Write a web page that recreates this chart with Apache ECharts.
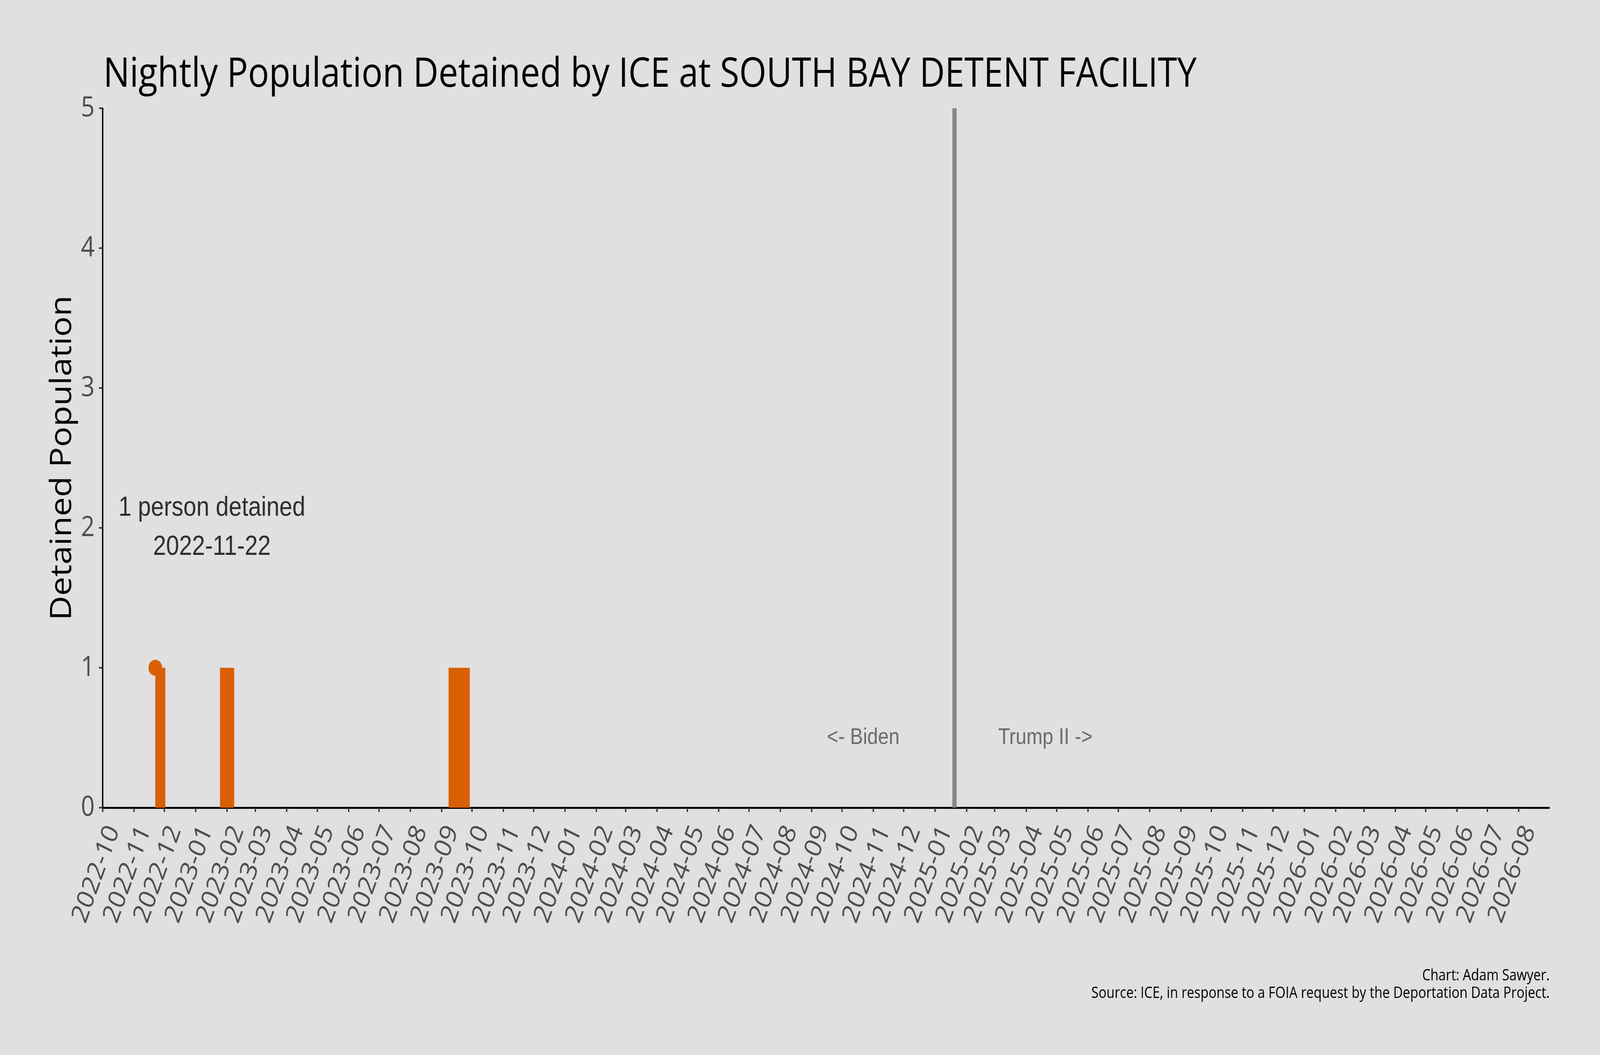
<!DOCTYPE html>
<html>
<head>
<meta charset="utf-8">
<script src="https://cdn.jsdelivr.net/npm/echarts@6/dist/echarts.min.js"></script>
<style>
  html, body { margin: 0; padding: 0; background: #e0e0e0; overflow: hidden; width: 100vw; height: 100vh; }
  #container { position: absolute; left: 0; top: 0; width: 4800px; height: 2700px; transform-origin: 0 0; }
</style>
</head>
<body>
<div id="container"></div>
<script>
var dom = document.getElementById('container');
// the page is laid out at 4800x2700 and fitted onto whatever viewport we get
dom.style.transform = 'scale(' + (window.innerWidth / 4800) + ',' + (window.innerHeight / 2700) + ')';
var myChart = echarts.init(dom, null, { renderer: 'canvas' });

// detention periods (nightly population held across each span)
var periodStart = ['2022-11-22', '2023-01-25', '2023-09-08'];
var periodEnd = ['2022-12-02', '2023-02-08', '2023-09-29'];
var periodValue = [1, 1, 1];

var axisStart = '2022-10-01';
var axisEnd = '2026-08-31';
var inauguration = '2025-01-20';

// monthly ticks, 2022-10 .. 2026-08
var firstTickMonth = [2022, 10];
var lastTickMonth = [2026, 8];

var eraLabels = ['<- Biden', 'Trump II ->'];
var eraLabelDates = ['2024-10-22', '2025-04-20'];
var eraLabelY = 0.5;

var noteDate = '2023-01-17';
var noteY = 2;

var titleText = 'Nightly Population Detained by ICE at SOUTH BAY DETENT FACILITY';
var creditLines = [
    'Chart: Adam Sawyer.',
    'Source: ICE, in response to a FOIA request by the Deportation Data Project.'
];

var ORANGE = '#d95f02';
var SANS = '"Open Sans", "Noto Sans", sans-serif';
var ARIAL = '"Liberation Sans", Arial, sans-serif';

var monthTicks = [];
for (var y = firstTickMonth[0], m = firstTickMonth[1];
     y < lastTickMonth[0] || (y === lastTickMonth[0] && m <= lastTickMonth[1]);
     m === 12 ? (y++, m = 1) : m++) {
    monthTicks.push(+echarts.time.parse(y + '-' + (m < 10 ? '0' + m : m) + '-01'));
}

var periods = periodStart.map(function (s, i) {
    return [s, periodEnd[i], periodValue[i]];
});

var option = {
    backgroundColor: '#e0e0e0',
    animation: false,
    title: {
        text: titleText,
        left: 310,
        top: 140,
        padding: 0,
        textStyle: {
            fontFamily: SANS,
            fontWeight: 'normal',
            fontSize: 105,
            color: '#000'
        }
    },
    graphic: [
        {
            type: 'text',
            right: 151,
            top: 2478,
            style: { text: creditLines[0], font: '39.5px ' + SANS, fill: '#000' }
        },
        {
            type: 'text',
            right: 151,
            top: 2523,
            style: { text: creditLines[1], font: '39.5px ' + SANS, fill: '#000' }
        }
    ],
    grid: {
        left: 308,
        right: 153,
        top: 277,
        bottom: 633,
        containLabel: false
    },
    xAxis: {
        type: 'time',
        min: axisStart,
        max: axisEnd,
        axisLine: { show: true, onZero: false, lineStyle: { color: '#000', width: 5 } },
        axisTick: {
            show: true,
            customValues: monthTicks,
            length: 11,
            lineStyle: { color: '#333', width: 4 }
        },
        splitLine: { show: false },
        axisLabel: {
            customValues: monthTicks,
            formatter: '{yyyy}-{MM}',
            rotate: 67,
            margin: 36,
            verticalAlign: 'top',
            interval: 0,
            hideOverlap: false,
            fontFamily: SANS,
            fontSize: 70,
            color: '#4d4d4d'
        }
    },
    yAxis: {
        type: 'value',
        min: 0,
        max: 5,
        interval: 1,
        name: 'Detained Population',
        nameLocation: 'middle',
        nameGap: 75,
        nameTextStyle: { fontFamily: SANS, fontSize: 87, color: '#000' },
        axisLine: { show: true, lineStyle: { color: '#000', width: 4 } },
        axisTick: { show: true, length: 11, lineStyle: { color: '#333', width: 4 } },
        splitLine: { show: false },
        axisLabel: { margin: 24, fontFamily: SANS, fontSize: 72, color: '#4d4d4d' }
    },
    series: [
        {
            name: 'population',
            type: 'custom',
            dimensions: [
                { name: 'start', type: 'time' },
                { name: 'end', type: 'time' },
                { name: 'value', type: 'number' }
            ],
            encode: { x: [0, 1], y: 2 },
            data: periods,
            renderItem: function (params, api) {
                var p0 = api.coord([api.value(0), api.value(2)]);
                var p1 = api.coord([api.value(1), 0]);
                return {
                    type: 'rect',
                    shape: { x: p0[0], y: p0[1], width: p1[0] - p0[0], height: p1[1] - p0[1] },
                    style: { fill: ORANGE }
                };
            },
            z: 2
        },
        {
            name: 'first detention',
            type: 'scatter',
            data: [[periodStart[0], periodValue[0]]],
            symbol: 'circle',
            symbolSize: 41,
            itemStyle: { color: ORANGE, opacity: 1 },
            z: 3
        },
        {
            name: 'note',
            type: 'scatter',
            data: [[noteDate, noteY]],
            symbolSize: 0,
            label: {
                show: true,
                position: 'inside',
                formatter: periodValue[0] + ' person detained\n' + periodStart[0],
                fontFamily: ARIAL,
                fontSize: 70,
                lineHeight: 100,
                color: '#000',
                align: 'center',
                verticalAlign: 'middle'
            },
            z: 4
        },
        {
            name: 'eras',
            type: 'scatter',
            data: eraLabelDates.map(function (d, i) { return { value: [d, eraLabelY], name: eraLabels[i] }; }),
            symbolSize: 0,
            label: {
                show: true,
                position: 'inside',
                formatter: '{b}',
                fontFamily: ARIAL,
                fontSize: 58,
                color: '#4d4d4d'
            },
            markLine: {
                silent: true,
                symbol: 'none',
                label: { show: false },
                lineStyle: { color: '#888888', width: 13, type: 'solid', opacity: 1 },
                data: [{ xAxis: inauguration }]
            },
            z: 4
        }
    ]
};

if (option && typeof option === 'object') {
    myChart.setOption(option, true);
}
</script>
</body>
</html>
